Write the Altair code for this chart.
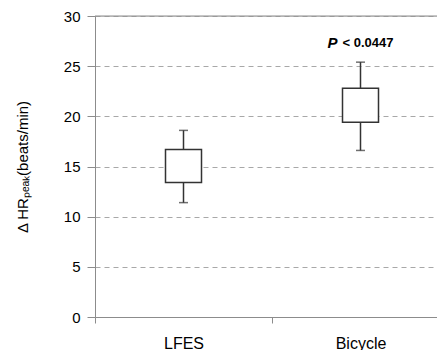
import altair as alt
import pandas as pd

groups = ["LFES", "Bicycle"]
box_low = [13.4, 19.4]
box_high = [16.7, 22.8]
whisker_low = [11.4, 16.6]
whisker_high = [18.6, 25.4]
y_ticks = [0, 5, 10, 15, 20, 25, 30]
top_value = [30]
ann_group = ["Bicycle"]
ann_y = [27.3]
ann_p = ["P"]
ann_rest = ["< 0.0447"]

df = pd.DataFrame({
    "group": groups,
    "box_low": box_low,
    "box_high": box_high,
    "whisker_low": whisker_low,
    "whisker_high": whisker_high,
})
top_df = pd.DataFrame({"y": top_value})
ann_df = pd.DataFrame({"group": ann_group, "y": ann_y, "p": ann_p, "rest": ann_rest})

FONT = "Liberation Sans"
AX = "#8c8c8c"
INK = "#333333"

x_enc = alt.X(
    "group:N",
    sort=groups,
    scale=alt.Scale(paddingInner=0, paddingOuter=0, range=[0, 354]),
    axis=alt.Axis(
        title=None, labelAngle=0, labelFontSize=16, labelFont=FONT,
        labelColor="black", labelPadding=12, tickBand="extent", tickSize=6,
        tickColor=AX, domainColor=AX, grid=False,
    ),
)
y_scale = alt.Scale(domain=[0, 30], nice=False, zero=True)
y_axis = alt.Axis(
    title="\u0394 HR\u209a\u2091\u2090\u2096(beats/min)",
    titleFont=FONT, titleFontSize=15, titleFontWeight="normal", titleColor="black",
    titlePadding=33,
    values=y_ticks, labelFontSize=15, labelFont=FONT, labelColor="black",
    labelPadding=7, tickSize=8, tickColor=AX, domainColor=AX,
    grid=True, gridDash=[5, 4], gridColor="#a8a8a8",
)

whisk = alt.Chart(df).mark_rule(color=INK, strokeWidth=1.5).encode(
    x=x_enc, y=alt.Y("whisker_low:Q", scale=y_scale, axis=y_axis), y2="whisker_high:Q"
)
cap_hi = alt.Chart(df).mark_tick(color=INK, size=9, thickness=1.5).encode(
    x=x_enc, y=alt.Y("whisker_high:Q", scale=y_scale)
)
cap_lo = alt.Chart(df).mark_tick(color=INK, size=9, thickness=1.5).encode(
    x=x_enc, y=alt.Y("whisker_low:Q", scale=y_scale)
)
box = alt.Chart(df).mark_bar(size=36, fill="white", stroke=INK, strokeWidth=1.5).encode(
    x=x_enc, y=alt.Y("box_low:Q", scale=y_scale), y2="box_high:Q"
)
top = alt.Chart(top_df).mark_rule(color=AX, strokeWidth=1).encode(
    y=alt.Y("y:Q", scale=y_scale)
)
p_txt = alt.Chart(ann_df).mark_text(
    font=FONT, fontSize=15, fontWeight="bold", fontStyle="italic", align="center", dx=-28
).encode(x=x_enc, y=alt.Y("y:Q", scale=y_scale), text="p:N")
rest_txt = alt.Chart(ann_df).mark_text(
    font=FONT, fontSize=13, fontWeight="bold", align="left", dx=-18
).encode(x=x_enc, y=alt.Y("y:Q", scale=y_scale), text="rest:N")

chart = alt.layer(top, whisk, cap_hi, cap_lo, box, p_txt, rest_txt).properties(
    width=342, height=301,
    autosize=alt.AutoSizeParams(type="none"),
    padding={"left": 87, "top": 8, "right": 0, "bottom": 33},
).configure_view(stroke=None).configure(background="white")

chart.save("out.html", embed_options={"renderer": "svg", "actions": False})
